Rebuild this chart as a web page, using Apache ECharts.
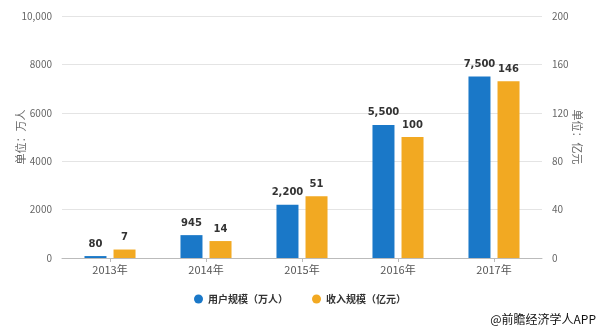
<!DOCTYPE html>
<html><head><meta charset="utf-8">
<script src="https://cdn.jsdelivr.net/npm/echarts@6/dist/echarts.min.js"></script>
<style>html,body{margin:0;padding:0;background:#fff}#c{width:600px;height:330px}</style>
</head><body><div id="c"></div>
<script>
var categories = ['2013年','2014年','2015年','2016年','2017年'];
var users = [80, 945, 2200, 5500, 7500];
var revenue = [7, 14, 51, 100, 146];
var leftTicks = ['0','2000','4000','6000','8000','10,000'];
var rightTicks = ['0','40','80','120','160','200'];
var seriesNames = ['用户规模（万人）','收入规模（亿元）'];

var chart = echarts.init(document.getElementById('c'));
var fmt = function(v){ return String(v).replace(/\B(?=(\d{3})+(?!\d))/g, ','); };
var labelStyle = {show:true, position:'top', distance:7, color:'#333', fontFamily:'DejaVu Sans', fontWeight:'bold', fontSize:10,
  formatter:function(p){return fmt(p.value);}};
chart.setOption({
  animation:false,
  grid:{left:62, right:58, top:16, bottom:72, outerBoundsMode:'none', containLabel:false},
  legend:{bottom:21, left:'center', itemWidth:9, itemHeight:9, itemGap:24, icon:'circle',
    textStyle:{fontFamily:'Noto Sans CJK SC', fontWeight:'bold', fontSize:10, color:'#333'},
    data:seriesNames},
  xAxis:{type:'category', data:categories,
    axisLine:{lineStyle:{color:'#bbb'}}, axisTick:{show:true, alignWithLabel:true, length:4, lineStyle:{color:'#bbb'}},
    axisLabel:{color:'#555', fontSize:11, fontFamily:'Noto Sans CJK SC', margin:6}},
  yAxis:[
    {type:'value', min:0, max:10000, interval:2000, name:'单位：万人', nameLocation:'middle', nameGap:36, nameMoveOverlap:false,
     nameTextStyle:{color:'#666', fontSize:11, fontFamily:'Noto Sans CJK SC'},
     axisLine:{show:false}, axisTick:{show:false},
     axisLabel:{color:'#666', fontSize:10, fontFamily:'Noto Sans CJK SC', margin:10,
       formatter:function(v){return leftTicks[Math.round(v/2000)];}},
     splitLine:{lineStyle:{color:'#e4e4e4'}}},
    {type:'value', min:0, max:200, interval:40, name:'单位：亿元', nameLocation:'middle', nameGap:30, nameRotate:-90, nameMoveOverlap:false,
     nameTextStyle:{color:'#666', fontSize:11, fontFamily:'Noto Sans CJK SC'},
     axisLine:{show:false}, axisTick:{show:false},
     axisLabel:{color:'#666', fontSize:10, fontFamily:'Noto Sans CJK SC', margin:10,
       formatter:function(v){return rightTicks[Math.round(v/40)];}},
     splitLine:{show:false}}
  ],
  series:[
    {name:seriesNames[0], type:'bar', yAxisIndex:0, data:users, barWidth:22, barGap:'32%',
     itemStyle:{color:'#1a78c8'}, label:labelStyle},
    {name:seriesNames[1], type:'bar', yAxisIndex:1, data:revenue, barWidth:22,
     itemStyle:{color:'#f2a922'}, label:labelStyle}
  ],
  graphic:[{type:'text', right:4, bottom:5, style:{text:'@前瞻经济学人APP', fill:'#111', fontSize:12, fontFamily:'Noto Sans CJK SC'}}]
});
</script></body></html>
